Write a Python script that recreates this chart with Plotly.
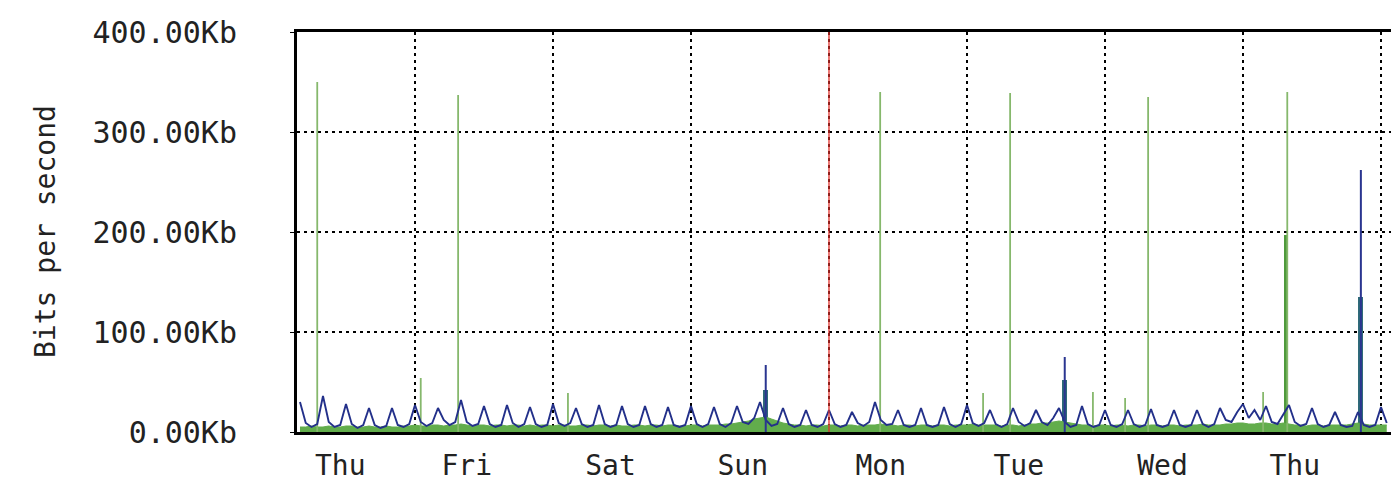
import plotly.graph_objects as go

# ---- time axis (hours relative to Friday 00:00) ----
hours = list(range(-20, 170))
midnights = [0, 24, 48, 72, 96, 120, 144, 168]
week_start_hour = 72
day_label_hours = [-13, 9, 34, 57, 81, 105, 130, 153]
day_labels = ["Thu", "Fri", "Sat", "Sun", "Mon", "Tue", "Wed", "Thu"]

# ---- y ticks ----
y_tick_vals = [0, 100, 200, 300, 400]
y_tick_text = ["0.00Kb", "100.00Kb", "200.00Kb", "300.00Kb", "400.00Kb"]

# ---- outgoing (blue line), hourly, Kb/s ----
outgoing = [
    30, 9, 5, 8, 36, 10, 5, 7, 28, 8, 4, 7, 24, 7, 4, 6, 24, 7, 5, 8,
    27, 10, 6, 9, 24, 12, 7, 10, 32, 10, 6, 8, 26, 8, 5, 7, 27, 9, 5, 8,
    25, 8, 5, 7, 28, 9, 6, 9, 24, 8, 5, 7, 27, 8, 5, 7, 26, 8, 5, 7,
    26, 8, 5, 7, 25, 7, 5, 7, 26, 8, 5, 8, 25, 8, 5, 9, 26, 10, 8, 14,
    30, 12, 6, 8, 24, 8, 5, 7, 22, 7, 5, 8, 22, 8, 5, 7, 20, 9, 6, 10,
    30, 12, 7, 8, 22, 7, 5, 7, 24, 7, 5, 7, 25, 8, 5, 8, 27, 9, 6, 9,
    22, 8, 5, 8, 24, 10, 6, 9, 22, 10, 7, 14, 24, 10, 5, 7, 26, 8, 5, 7,
    22, 7, 5, 8, 22, 8, 5, 7, 23, 7, 5, 7, 22, 7, 5, 7, 22, 8, 5, 8,
    24, 12, 10, 20, 28, 14, 22, 12, 26, 10, 8, 18, 27, 10, 6, 8, 24, 8, 5, 7,
    20, 7, 5, 6, 20, 7, 5, 7, 25, 9,
]

# ---- incoming (green area), hourly, Kb/s ----
incoming = [
    5, 5, 6, 5, 5, 6, 5, 5, 6, 6, 5, 5, 6, 5, 5, 6, 5, 5, 6, 6, 7, 6, 6, 7,
    7, 6, 7, 7, 8, 7, 6, 7, 7, 6, 7, 7, 6, 7, 7, 6, 7, 6, 7, 7, 6, 7, 7, 6,
    6, 7, 7, 6, 7, 7, 6, 7, 6, 6, 7, 7, 6, 7, 7, 6, 7, 7, 6, 6, 7, 7, 6, 7,
    7, 7, 8, 8, 9, 10, 11, 13, 14, 15, 13, 11, 9, 8, 7, 7, 6, 7, 7, 6, 7, 7, 6, 7,
    7, 6, 7, 7, 7, 8, 7, 7, 6, 7, 7, 6, 7, 7, 6, 7, 7, 6, 7, 7, 7, 8, 7, 7,
    7, 7, 6, 7, 7, 6, 7, 8, 8, 9, 9, 10, 11, 10, 9, 8, 7, 7, 6, 7, 7, 6, 7, 7,
    6, 7, 7, 6, 7, 7, 6, 7, 7, 6, 7, 7, 7, 8, 7, 7, 7, 8, 8, 9, 9, 8, 8, 9,
    9, 8, 8, 9, 8, 7, 7, 6, 7, 7, 6, 7, 7, 7, 7, 8, 9, 8, 7, 7, 7, 7,
]

# ---- short incoming peaks (thin green spikes) ----
in_spike_hours = [-17, 1, 7.5, 26.6, 80.9, 98.8, 103.5, 117.9, 123.5, 127.5, 147.5, 151.7]
in_spike_vals = [350, 54, 337, 39, 340, 39, 339, 40, 34, 335, 40, 340]

# ---- sustained incoming burst (thick green) ----
in_burst_hours = [151.5]
in_burst_vals = [197]

# ---- overlapping in/out bursts (dark teal) ----
mix_burst_hours = [61, 113, 164.5]
mix_burst_vals = [42, 52, 135]

# ---- outgoing peaks (blue spikes) ----
out_spike_hours = [61, 113, 164.5]
out_spike_vals = [67, 75, 262]


def segments(xs, ys):
    sx, sy = [], []
    for x, y in zip(xs, ys):
        sx += [x, x, None]
        sy += [0, y, None]
    return sx, sy


FONT = "DejaVu Sans Mono"
fig = go.Figure()

fig.add_trace(go.Scatter(
    x=hours, y=incoming, mode="lines", fill="tozeroy",
    line=dict(color="#62ad4c", width=1), fillcolor="#62ad4c",
    hoverinfo="skip", showlegend=False))

fig.add_trace(go.Bar(
    x=in_burst_hours, y=in_burst_vals, width=0.7,
    marker=dict(color="#4f9a3c", line=dict(width=0)),
    showlegend=False))

fig.add_trace(go.Bar(
    x=mix_burst_hours, y=mix_burst_vals, width=0.9,
    marker=dict(color="#2f6b78", line=dict(width=0)),
    showlegend=False))

sx, sy = segments(in_spike_hours, in_spike_vals)
fig.add_trace(go.Scatter(
    x=sx, y=sy, mode="lines", line=dict(color="#86b86c", width=1.8),
    hoverinfo="skip", showlegend=False))

fig.add_trace(go.Scatter(
    x=hours, y=outgoing, mode="lines",
    line=dict(color="#23308a", width=1.9),
    hoverinfo="skip", showlegend=False))

sx, sy = segments(out_spike_hours, out_spike_vals)
fig.add_trace(go.Scatter(
    x=sx, y=sy, mode="lines", line=dict(color="#2a3590", width=2),
    hoverinfo="skip", showlegend=False))

fig.add_shape(type="line", xref="x", yref="paper",
              x0=week_start_hour, x1=week_start_hour, y0=0, y1=1,
              line=dict(color="#e0302a", width=1.3), layer="above")

fig.add_annotation(text="Bits per second", xref="paper", yref="paper",
                   x=0, y=0.5, xanchor="center", yanchor="middle",
                   xshift=-252, textangle=-90, showarrow=False,
                   font=dict(family=FONT, size=28, color="#222"))

fig.update_layout(
    width=1391, height=481,
    margin=dict(l=297, r=0, t=32, b=49),
    paper_bgcolor="white", plot_bgcolor="white",
    barmode="overlay", bargap=0,
    font=dict(family=FONT, size=28, color="#222"),
    xaxis=dict(
        range=[-20.52, 169.74],
        tickmode="array", tickvals=day_label_hours, ticktext=day_labels,
        ticks="", showgrid=False, zeroline=False,
        showline=True, linecolor="black", linewidth=3, mirror=True,
        ticklabelstandoff=6,
        tickfont=dict(size=28),
        minor=dict(tickmode="array", tickvals=midnights, showgrid=True,
                   gridcolor="black", gridwidth=2, griddash="3px,4px", ticks=""),
    ),
    yaxis=dict(
        range=[0, 400],
        tickmode="array", tickvals=y_tick_vals, ticktext=y_tick_text,
        ticks="outside", ticklen=4, tickcolor="black",
        showgrid=True, gridcolor="black", gridwidth=2, griddash="3px,4px",
        zeroline=False, showline=True, linecolor="black", linewidth=3,
        ticklabelstandoff=47,
        tickfont=dict(size=30),
    ),
)

fig.write_html(
    "out.html",
    config={"displayModeBar": False},
    post_script="document.body.style.margin='0';document.body.style.overflow='hidden';",
)
